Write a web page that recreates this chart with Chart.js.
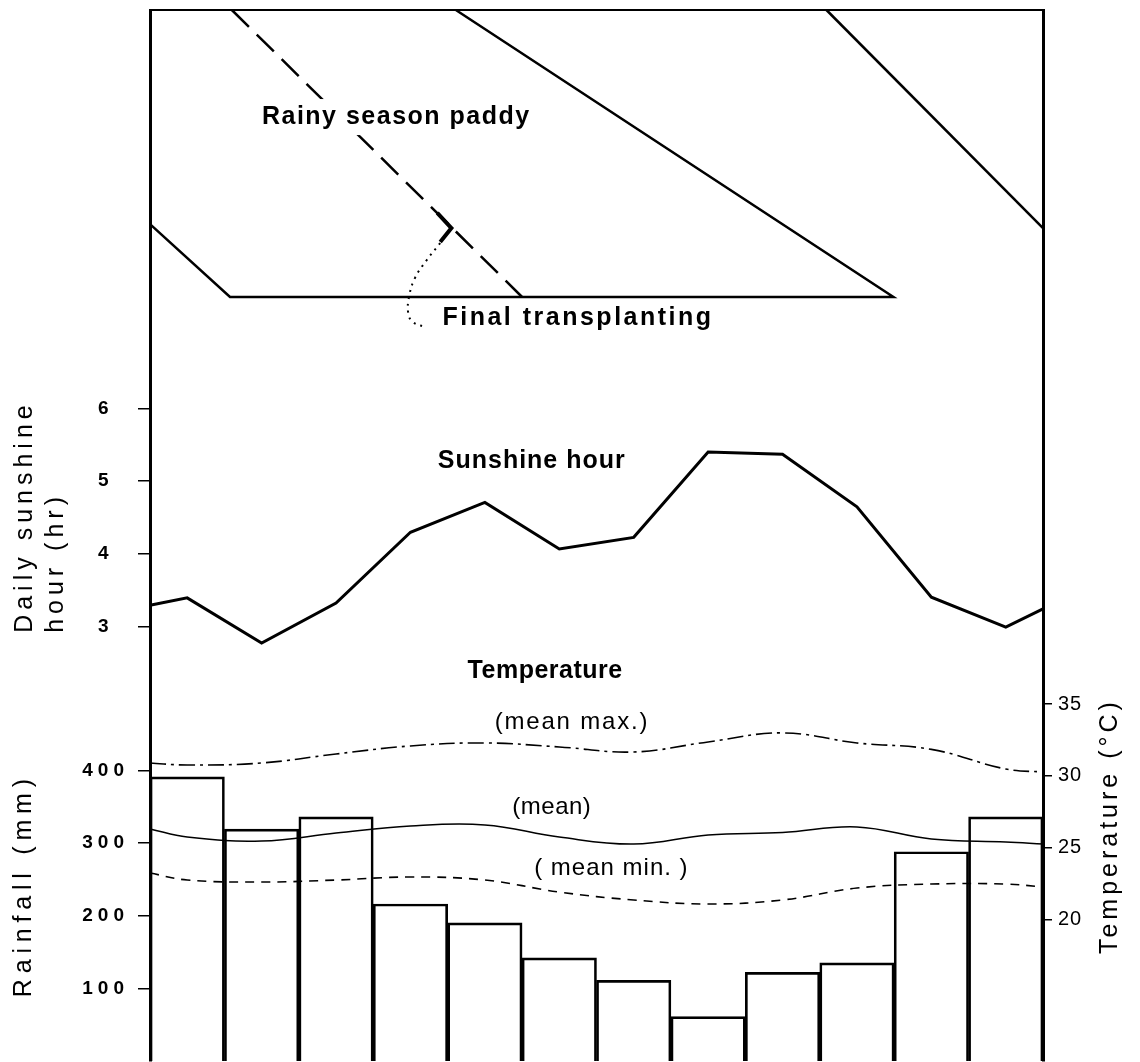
<!DOCTYPE html>
<html>
<head>
<meta charset="utf-8">
<script src="https://cdn.jsdelivr.net/npm/chart.js@4/dist/chart.umd.min.js"></script>
<style>
html,body{margin:0;padding:0;background:#fff;}
#wrap{width:1140px;height:1062px;position:relative;}
</style>
</head>
<body>
<div id="wrap"><canvas id="c"></canvas></div>
<script>
// ---------- data ----------
const months = ['1','2','3','4','5','6','7','8','9','10','11','12'];
const monthPos = [0.5, 1.5, 2.5, 3.5, 4.5, 5.5, 6.5, 7.5, 8.5, 9.5, 10.5, 11.5];
const rainfall = [391, 319, 336, 216, 190, 142, 111, 61, 122, 135, 288, 336];
const sunshine = [3.40, 2.78, 3.33, 4.30, 4.71, 4.07, 4.23, 5.40, 5.37, 4.65, 3.41, 3.00];
const sunshineEdges = [3.30, 3.25];
const tempMax = [30.76, 30.90, 31.53, 32.09, 32.30, 32.02, 31.67, 32.37, 33.00, 32.30, 31.85, 30.48];
const tempMaxEdges = [30.90, 30.27];
const tempMean = [25.74, 25.46, 26.02, 26.51, 26.58, 25.74, 25.25, 25.88, 26.05, 26.44, 25.60, 25.39];
const tempMeanEdges = [26.30, 25.25];
const tempMin = [22.74, 22.60, 22.74, 22.95, 22.74, 21.90, 21.35, 21.07, 21.35, 22.18, 22.46, 22.46];
const tempMinEdges = [23.23, 22.25];
const sunTicks = [3, 4, 5, 6];
const rainTicks = [100, 200, 300, 400];
const tempTicks = [20, 25, 30, 35];
// crop calendar (x = month position, y = fraction of the crop panel height)
const cropTop = [[0, 1], [12, 1]];
const cropBand = [[0, 0.254], [1.075, 0], [9.99, 0], [4.11, 1]];
const cropBandWrap = [[9.09, 1], [12, 0.240]];
const rainyPaddy = [[1.10, 1], [5.00, 0]];
const transplantMark = [[3.86, 0.293], [4.05, 0.240], [3.90, 0.192]];
const transplantArrow = [[3.90, 0.188], [3.72, 0.129], [3.56, 0.066], [3.48, 0], [3.47, -0.056], [3.53, -0.087], [3.70, -0.105]];

// ---------- helpers ----------
function monthly(vals, edges) {
  const pts = [{x: 0, y: edges[0]}];
  vals.forEach((v, i) => pts.push({x: monthPos[i], y: v}));
  pts.push({x: 12, y: edges[1]});
  return pts;
}
function pairs(arr) { return arr.map(p => ({x: p[0], y: p[1]})); }
function lineDS(data, yAxisID, extra) {
  return Object.assign({
    type: 'line', data, xAxisID: 'x2', yAxisID,
    borderColor: '#000', backgroundColor: '#000', borderWidth: 2,
    pointRadius: 0, fill: false, tension: 0, clip: 6, order: 0
  }, extra || {});
}

const textLabels = [
  {text: 'Rainy season paddy', x: 3.31, y: 0.627, axis: 'yCrop', font: 'bold 25px "Liberation Sans"', ls: 1.5, align: 'center', knockout: true},
  {text: 'Final transplanting', x: 3.93, y: -0.073, axis: 'yCrop', font: 'bold 25px "Liberation Sans"', ls: 2.5, align: 'left'},
  {text: 'Sunshine hour', x: 5.13, y: 5.27, axis: 'ySun', font: 'bold 25px "Liberation Sans"', ls: 1, align: 'center'},
  {text: 'Temperature', x: 5.31, y: 37.3, axis: 'yTemp', font: 'bold 25px "Liberation Sans"', ls: 0.5, align: 'center'},
  {text: '(mean max.)', x: 5.67, y: 33.7, axis: 'yTemp', font: '24px "Liberation Sans"', ls: 1.8, align: 'center'},
  {text: '(mean)', x: 5.40, y: 27.83, axis: 'yTemp', font: '24px "Liberation Sans"', ls: 0.5, align: 'center'},
  {text: '( mean min. )', x: 6.2, y: 23.58, axis: 'yTemp', font: '24px "Liberation Sans"', ls: 1, align: 'center'}
];

const annotPlugin = {
  id: 'annot',
  beforeDraw(chart) { chart.ctx.letterSpacing = '1px'; },
  afterDatasetsDraw(chart) { chart.ctx.letterSpacing = '5px'; },
  afterDraw(chart) {
    const ctx = chart.ctx, s = chart.scales;
    ctx.save();
    ctx.textBaseline = 'middle';
    for (const L of textLabels) {
      ctx.font = L.font;
      ctx.letterSpacing = L.ls + 'px';
      ctx.textAlign = L.align;
      const px = s.x2.getPixelForValue(L.x), py = s[L.axis].getPixelForValue(L.y);
      if (L.knockout) {
        const w = ctx.measureText(L.text).width;
        ctx.fillStyle = '#fff';
        ctx.fillRect(px - w / 2 - 6, py - 18, w + 12, 36);
      }
      ctx.fillStyle = '#000';
      ctx.fillText(L.text, px, py);
    }
    function vtext(text, x, y, align, ls) {
      ctx.save();
      ctx.translate(x, y);
      ctx.rotate(-Math.PI / 2);
      ctx.font = '25px "Liberation Sans"';
      ctx.letterSpacing = ls + 'px';
      ctx.textAlign = align;
      ctx.fillStyle = '#000';
      ctx.fillText(text, 0, 0);
      ctx.restore();
    }
    const sunStart = s.ySun.getPixelForValue(2.92);
    vtext('Daily sunshine', 25, sunStart, 'left', 5);
    vtext('hour (hr)', 56, sunStart, 'left', 5);
    vtext('Rainfall (mm)', 24, s.yRain.getPixelForValue(242), 'center', 5.8);
    vtext('Temperature (°C)', 1110, s.yTemp.getPixelForValue(26.5), 'center', 4);
    ctx.restore();
  }
};

function fixedTicks(list) { return s => { s.ticks = list.map(v => ({value: v})); }; }
function fixWidth(w) { return s => { s.width = w; s.paddingTop = 0; s.paddingBottom = 0; }; }

new Chart(document.getElementById('c'), {
  type: 'bar',
  data: {
    labels: months,
    datasets: [
      {
        label: 'Rainfall', data: rainfall, xAxisID: 'x', yAxisID: 'yRain',
        backgroundColor: 'rgba(0,0,0,0)', borderColor: '#000',
        borderWidth: {top: 2, left: 2, right: 2, bottom: 0},
        barPercentage: 1, categoryPercentage: 1, grouped: false, order: 10
      },
      lineDS(monthly(sunshine, sunshineEdges), 'ySun', {borderWidth: 3}),
      lineDS(monthly(tempMax, tempMaxEdges), 'yTemp', {borderWidth: 1.6, borderDash: [16, 5, 3, 5], tension: 0.4}),
      lineDS(monthly(tempMean, tempMeanEdges), 'yTemp', {borderWidth: 1.5, tension: 0.4}),
      lineDS(monthly(tempMin, tempMinEdges), 'yTemp', {borderWidth: 1.6, borderDash: [9, 7], tension: 0.4}),
      lineDS(pairs(cropTop), 'yCrop', {borderWidth: 2}),
      lineDS(pairs(cropBand), 'yCrop', {borderWidth: 2.5}),
      lineDS(pairs(cropBandWrap), 'yCrop', {borderWidth: 2.5}),
      lineDS(pairs(rainyPaddy), 'yCrop', {borderWidth: 2.5, borderDash: [24, 11]}),
      lineDS(pairs(transplantMark), 'yCrop', {borderWidth: 4}),
      lineDS(pairs(transplantArrow), 'yCrop', {borderWidth: 2, borderDash: [2, 5], tension: 0.4})
    ]
  },
  options: {
    responsive: true, maintainAspectRatio: false, animation: false,
    devicePixelRatio: 1, events: [],
    layout: {padding: {top: 10, bottom: 1, left: 0, right: 0}},
    plugins: {legend: {display: false}, tooltip: {enabled: false}, title: {display: false}},
    scales: {
      x: {display: false, offset: true},
      x2: {type: 'linear', display: false, min: 0, max: 12, offset: false},
      yCrop: {type: 'linear', display: false, min: -2.662, max: 1},
      yRain: {
        type: 'linear', position: 'left', weight: 1, min: 0, max: 1446.3, bounds: 'data',
        afterFit: fixWidth(150), afterBuildTicks: fixedTicks(rainTicks),
        ticks: {color: '#000', padding: 9, z: 1, autoSkip: false, font: {family: 'Liberation Sans', size: 19, weight: 'bold'}},
        grid: {drawOnChartArea: false, drawTicks: true, tickLength: 12, color: '#000', lineWidth: 1.5},
        border: {display: true, color: '#000', width: 3}
      },
      ySun: {
        type: 'linear', position: 'left', weight: 0, min: -2.953, max: 11.464, bounds: 'data',
        afterFit: fixWidth(0), afterBuildTicks: fixedTicks(sunTicks),
        ticks: {color: '#000', mirror: true, crossAlign: 'near', padding: -52, z: 1, autoSkip: false, font: {family: 'Liberation Sans', size: 19, weight: 'bold'}},
        grid: {drawOnChartArea: false, drawTicks: true, tickLength: 12, color: '#000', lineWidth: 1.5},
        border: {display: false}
      },
      yTemp: {
        type: 'linear', position: 'right', min: 10.12, max: 83.41, bounds: 'data',
        afterFit: fixWidth(97), afterBuildTicks: fixedTicks(tempTicks),
        ticks: {color: '#000', padding: 6, z: 0, autoSkip: false, font: {family: 'Liberation Sans', size: 20}},
        grid: {drawOnChartArea: false, drawTicks: true, tickLength: 9, color: '#000', lineWidth: 1.5},
        border: {display: true, color: '#000', width: 3}
      }
    }
  },
  plugins: [annotPlugin]
});
</script>
</body>
</html>
